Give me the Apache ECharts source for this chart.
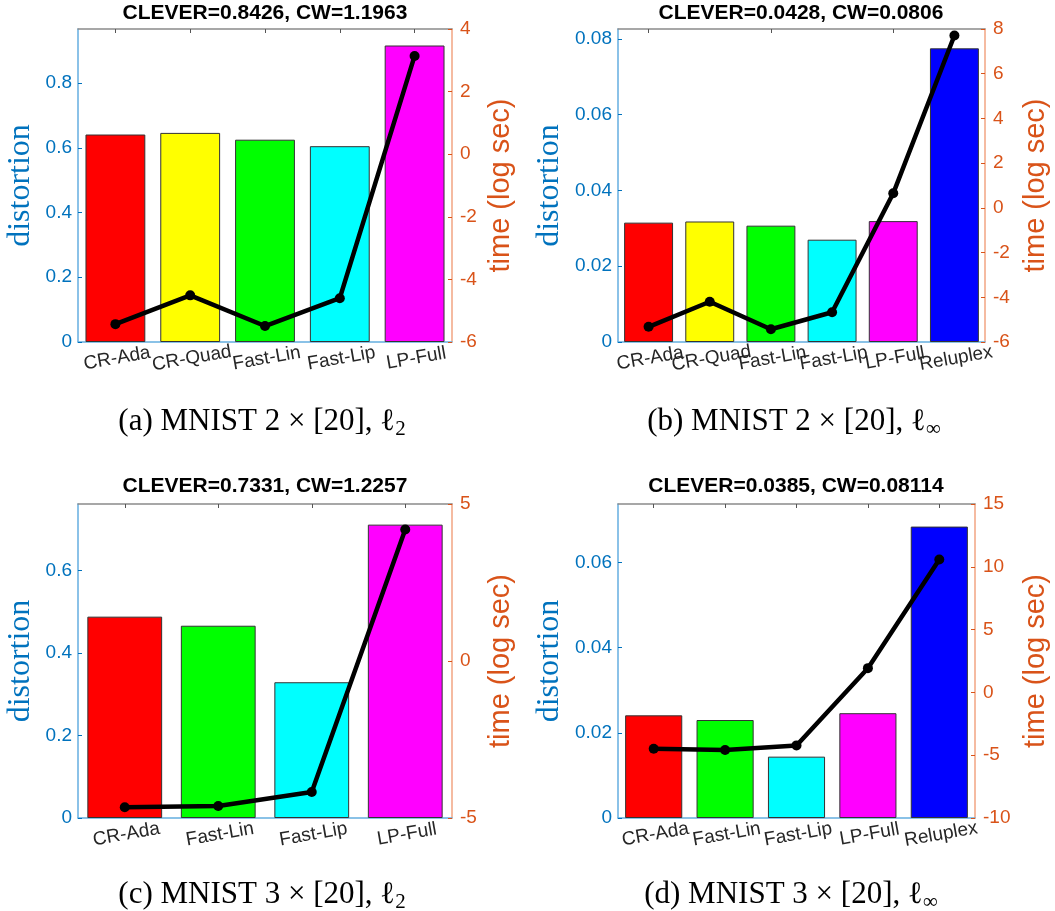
<!DOCTYPE html>
<html><head><meta charset="utf-8">
<script src="https://cdn.jsdelivr.net/npm/echarts@6/dist/echarts.min.js"></script>
<style>html,body{margin:0;padding:0;background:#fff}#c{width:1055px;height:911px}</style>
</head><body><div id="c"></div>
<script>
// ---- data ----
const catsA = ['CR-Ada','CR-Quad','Fast-Lin','Fast-Lip','LP-Full'];
const distA = [0.641, 0.646, 0.625, 0.605, 0.916];
const timeA = [-5.43, -4.51, -5.49, -4.60, 3.14];

const catsB = ['CR-Ada','CR-Quad','Fast-Lin','Fast-Lip','LP-Full','Reluplex'];
const distB = [0.0315, 0.0318, 0.0307, 0.0270, 0.0319, 0.0775];
const timeB = [-5.32, -4.20, -5.43, -4.67, 0.65, 7.71];

const catsC = ['CR-Ada','Fast-Lin','Fast-Lip','LP-Full'];
const distC = [0.488, 0.466, 0.329, 0.711];
const timeC = [-4.66, -4.62, -4.17, 4.19];

const catsD = ['CR-Ada','Fast-Lin','Fast-Lip','LP-Full','Reluplex'];
const distD = [0.0241, 0.0230, 0.0144, 0.0246, 0.0684];
const timeD = [-4.49, -4.59, -4.22, 1.93, 10.58];

const titles = ['CLEVER=0.8426, CW=1.1963','CLEVER=0.0428, CW=0.0806','CLEVER=0.7331, CW=1.2257','CLEVER=0.0385, CW=0.08114'];
const captionMain = ['(a) MNIST 2 × [20], ℓ','(b) MNIST 2 × [20], ℓ','(c) MNIST 3 × [20], ℓ','(d) MNIST 3 × [20], ℓ'];
const captionSub = ['2','∞','2','∞'];
const leftName = 'distortion';
const rightName = 'time (log sec)';

// axis ranges (left: distortion, right: time)
const leftMax = [0.967, 0.0826, 0.761, 0.0737];
const leftInterval = [0.2, 0.02, 0.2, 0.02];
const rightMin = [-6, -6, -5, -10];
const rightMax = [4, 8, 5, 15];
const rightInterval = [2, 2, 5, 5];

const barColors = {'CR-Ada':'#FF0000','CR-Quad':'#FFFF00','Fast-Lin':'#00FF00','Fast-Lip':'#00FFFF','LP-Full':'#FF00FF','Reluplex':'#0000FF'};

// ---- layout ----
const panels = [
  {cats:catsA, dist:distA, time:timeA, grid:{left:78, top:29, width:374, height:313}, tx:265, ty:3, cx:262, cy:404, lnx:21, rnx:501},
  {cats:catsB, dist:distB, time:timeB, grid:{left:618, top:29, width:367, height:313}, tx:801, ty:3, cx:794, cy:404, lnx:550, rnx:1036},
  {cats:catsC, dist:distC, time:timeC, grid:{left:78, top:504, width:374, height:314}, tx:265, ty:476, cx:262, cy:877, lnx:21, rnx:501},
  {cats:catsD, dist:distD, time:timeD, grid:{left:618, top:504, width:357, height:314}, tx:796, ty:476, cx:791, cy:877, lnx:550, rnx:1036}
];

const BLUE = '#0072BD', ORANGE = '#D95319';
const sans = 'Liberation Sans, Arial, Helvetica, sans-serif';
const serif = 'Liberation Serif, Times New Roman, serif';

const option = {animation:false, backgroundColor:'#fff', title:[], grid:[], xAxis:[], yAxis:[], series:[], graphic:[]};

panels.forEach((p, i) => {
  option.title.push({
    text: titles[i], left: p.tx, top: p.ty, textAlign:'center', padding:0,
    textStyle:{fontFamily:sans, fontWeight:'bold', fontSize:21, color:'#000'}
  });
  option.title.push({
    text: '{m|' + captionMain[i] + '}{s|' + captionSub[i] + '}', left: p.cx, top: p.cy, textAlign:'center', padding:0,
    textStyle:{fontWeight:'normal', rich:{
      m:{fontFamily:serif, fontWeight:'normal', fontSize:31, lineHeight:36, color:'#000'},
      s:{fontFamily:serif, fontWeight:'normal', fontSize:21, lineHeight:20, verticalAlign:'bottom', color:'#000'}
    }}
  });
  const cy = p.grid.top + p.grid.height / 2;
  option.graphic.push({
    type:'text', x:p.lnx, y:cy, rotation:Math.PI/2, z:10,
    style:{text:leftName, fill:BLUE, fontFamily:'Liberation Serif', fontSize:32, align:'center', verticalAlign:'middle'}
  });
  option.graphic.push({
    type:'text', x:p.rnx, y:cy, rotation:Math.PI/2, z:10,
    style:{text:rightName, fill:ORANGE, fontFamily:'Liberation Sans', fontSize:29, align:'center', verticalAlign:'middle'}
  });
  option.grid.push(Object.assign({containLabel:false}, p.grid));
  option.xAxis.push({
    type:'category', gridIndex:i, data:p.cats, position:'bottom',
    axisLine:{show:true, onZero:false, lineStyle:{color:'#64AEE0', width:1.5}},
    axisTick:{show:false},
    axisLabel:{interval:0, rotate:10, align:'center', verticalAlign:'top', margin:7, color:'#262626', fontSize:19, fontFamily:sans, hideOverlap:false}
  });
  option.xAxis.push({
    type:'category', gridIndex:i, data:p.cats, position:'top',
    axisLine:{show:true, onZero:false, lineStyle:{color:'#8a8a8a', width:1.5}},
    axisTick:{show:true, inside:true, alignWithLabel:true, length:4, lineStyle:{color:'#555'}},
    axisLabel:{show:false}
  });
  option.yAxis.push({
    type:'value', gridIndex:i, position:'left', min:0, max:leftMax[i], interval:leftInterval[i],
    axisLine:{show:true, lineStyle:{color:'#64AEE0', width:1.5}},
    axisTick:{show:true, inside:true, length:4, lineStyle:{color:BLUE}},
    axisLabel:{color:BLUE, fontSize:19, fontFamily:sans, margin:6, showMaxLabel:false},
    splitLine:{show:false}
  });
  option.yAxis.push({
    type:'value', gridIndex:i, position:'right', min:rightMin[i], max:rightMax[i], interval:rightInterval[i],
    axisLine:{show:true, lineStyle:{color:'#F2A582', width:1.5}},
    axisTick:{show:true, inside:true, length:4, lineStyle:{color:ORANGE}},
    axisLabel:{color:ORANGE, fontSize:19, fontFamily:sans, margin:8},
    splitLine:{show:false}
  });
  option.series.push({
    type:'bar', xAxisIndex:2*i, yAxisIndex:2*i, barWidth:'80%',
    data:p.dist.map((v, k) => ({value:v, itemStyle:{color:barColors[p.cats[k]]}})),
    itemStyle:{borderColor:'#333', borderWidth:1}
  });
  option.series.push({
    type:'line', xAxisIndex:2*i, yAxisIndex:2*i+1, data:p.time, z:5,
    lineStyle:{color:'#000', width:4.5}, itemStyle:{color:'#000'},
    symbol:'circle', symbolSize:10, showAllSymbol:true
  });
});

const chart = echarts.init(document.getElementById('c'), null, {renderer:'canvas'});
chart.setOption(option);
</script>
</body></html>
